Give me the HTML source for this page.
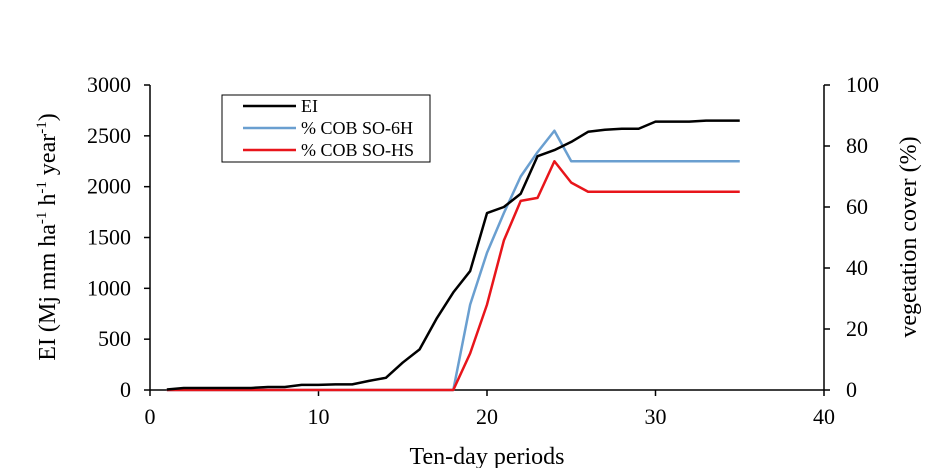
<!DOCTYPE html>
<html><head><meta charset="utf-8"><style>
body{margin:0;background:#fff;}
svg text{font-family:"Liberation Serif",serif;fill:#000;}
</style></head><body>
<svg id="chart" width="952" height="468" xmlns="http://www.w3.org/2000/svg"></svg>
<script>
const periods=[1,2,3,4,5,6,7,8,9,10,11,12,13,14,15,16,17,18,19,20,21,22,23,24,25,26,27,28,29,30,31,32,33,34,35];
const eiValues=[5,20,20,20,20,20,30,30,50,50,55,55,90,120,270,400,700,960,1170,1740,1800,1930,2300,2360,2440,2540,2560,2570,2570,2640,2640,2640,2650,2650,2650];
const cover6H=[0,0,0,0,0,0,0,0,0,0,0,0,0,0,0,0,0,0,28,45,58,70,78,85,75,75,75,75,75,75,75,75,75,75,75];
const coverHS=[0,0,0,0,0,0,0,0,0,0,0,0,0,0,0,0,0,0,12,28,49,62,63,75,68,65,65,65,65,65,65,65,65,65,65];
const xTicks=[0,10,20,30,40];
const leftTicks=[0,500,1000,1500,2000,2500,3000];
const rightTicks=[0,20,40,60,80,100];
const NS="http://www.w3.org/2000/svg";
const svg=document.getElementById('chart');
const X0=150,X1=824,Y0=390,Y1=85;
const xs=v=>X0+(v-0)/40*(X1-X0);
const yl=v=>Y0-v/3000*(Y0-Y1);
const yr=v=>Y0-v/100*(Y0-Y1);
function mk(t,a,p){const e=document.createElementNS(NS,t);for(const k in a)e.setAttribute(k,a[k]);(p||svg).appendChild(e);return e;}
let g=mk('g',{});


mk('line',{x1:X0,y1:Y1,x2:X0,y2:Y0,stroke:'#000','stroke-width':1.5},g);
mk('line',{x1:X0,y1:Y0,x2:X1,y2:Y0,stroke:'#000','stroke-width':1.5},g);
mk('line',{x1:X1,y1:Y1,x2:X1,y2:Y0,stroke:'#000','stroke-width':1.5},g);
xTicks.forEach(v=>{mk('line',{x1:xs(v),y1:Y0,x2:xs(v),y2:Y0+6,stroke:'#000','stroke-width':1.5},g);
const t=mk('text',{x:xs(v),y:Y0+34,'text-anchor':'middle','font-size':22},g);t.textContent=v;

});
leftTicks.forEach(v=>{mk('line',{x1:X0-6,y1:yl(v),x2:X0,y2:yl(v),stroke:'#000','stroke-width':1.5},g);
const t=mk('text',{x:X0-19,y:yl(v)+7,'text-anchor':'end','font-size':22},g);t.textContent=v;

});
rightTicks.forEach(v=>{mk('line',{x1:X1,y1:yr(v),x2:X1+6,y2:yr(v),stroke:'#000','stroke-width':1.5},g);
const t=mk('text',{x:X1+22,y:yr(v)+7,'text-anchor':'start','font-size':22},g);t.textContent=v;

});
function line(vals,fy,color,name){const p=mk('polyline',{points:vals.map((v,i)=>xs(periods[i])+','+fy(v)).join(' '),fill:'none',stroke:color,'stroke-width':2.5,'stroke-linejoin':'round'});

}
line(cover6H,yr,'#6a9fd0','series-cob-so-6h');
line(coverHS,yr,'#e8151b','series-cob-so-hs');
line(eiValues,yl,'#000','series-ei');
let t=mk('text',{x:487,y:464,'text-anchor':'middle','font-size':24});t.textContent='Ten-day periods';


t=mk('text',{x:0,y:0,'text-anchor':'middle','font-size':24,transform:'translate(55,237) rotate(-90)'});
t.innerHTML='EI  (Mj mm ha<tspan dy="-9" font-size="15">-1</tspan><tspan dy="9"> h</tspan><tspan dy="-9" font-size="15">-1</tspan><tspan dy="9"> year</tspan><tspan dy="-9" font-size="15">-1</tspan><tspan dy="9">)</tspan>';


t=mk('text',{x:0,y:0,'text-anchor':'middle','font-size':24,transform:'translate(916,237) rotate(-90)'});t.textContent='vegetation cover (%)';


const lg=mk('g',{});


mk('rect',{x:222,y:95,width:208,height:67,fill:'#fff',stroke:'#000','stroke-width':1},lg);
[['EI','#000'],['% COB SO-6H','#6a9fd0'],['% COB SO-HS','#e8151b']].forEach((d,i)=>{const y=106+i*22;
mk('line',{x1:243,y1:y,x2:296,y2:y,stroke:d[1],'stroke-width':2.5},lg);
const tt=mk('text',{x:301,y:y+6,'font-size':18},lg);tt.textContent=d[0];

});
</script>
</body></html>
